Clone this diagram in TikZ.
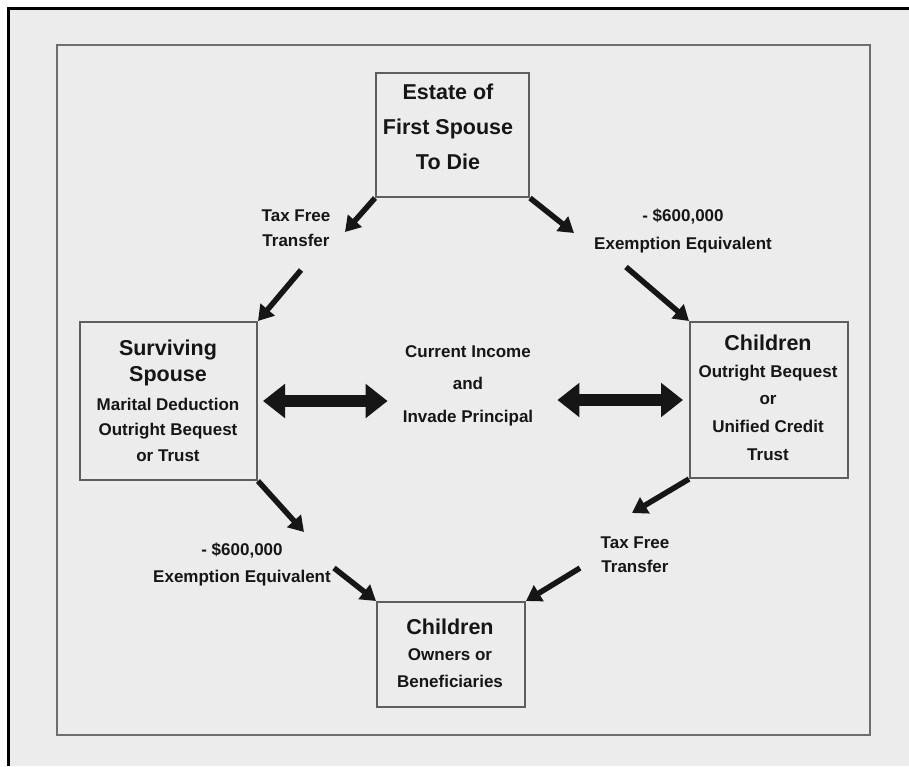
\documentclass[tikz,border=0pt]{standalone}
\usepackage{fontspec}
\setmainfont{Liberation Sans}
\usetikzlibrary{arrows.meta}
\definecolor{bg}{HTML}{ECECEC}
\definecolor{ink}{HTML}{161616}
\definecolor{boxc}{HTML}{5E5E5E}
\definecolor{framec}{HTML}{6E6E6E}
\begin{document}
\begin{tikzpicture}[x=1pt,y=-1pt,
  box/.style={draw=boxc,line width=2pt,inner sep=0pt},
  ttl/.style={text=ink,font=\fontsize{21.5}{26}\selectfont\bfseries,align=center,inner sep=0pt},
  sub/.style={text=ink,font=\fontsize{17}{27}\selectfont\bfseries,align=center,inner sep=0pt},
  arr/.style={draw=ink,line width=5.5pt,-{Triangle[width=18pt,length=15pt]}},
  dbl/.style={draw=ink,line width=12pt,{Triangle[width=33pt,length=22pt]}-{Triangle[width=33pt,length=22pt]}}]
\useasboundingbox (0,0) rectangle (909,766);
\fill[white] (0,0) rectangle (909,766);
\fill[bg] (10,10) rectangle (909,766);
\fill[black] (7,7) rectangle (10,766);
\fill[black] (7,7) rectangle (909,10);
% frame
\node[box,draw=framec,minimum width=813pt,minimum height=690pt] (frame) at (463.5,390) {};
% boxes
\node[box,minimum width=153pt,minimum height=124pt] (estate) at (452.5,135) {};
\node[box,minimum width=177pt,minimum height=158pt] (spouse) at (168.5,401) {};
\node[box,minimum width=158pt,minimum height=156pt] (childR) at (769,400) {};
\node[box,minimum width=148pt,minimum height=105pt] (childB) at (451,654.5) {};
% texts in boxes
\node[ttl,font=\fontsize{21.5}{35}\selectfont\bfseries] (estateT) at (448,127) {Estate of\\First Spouse\\To Die};
\node[ttl] (spouseT) at (168,363) {Surviving\\Spouse};
\node[sub,font=\fontsize{17}{25.5}\selectfont\bfseries] (spouseS) at (168,429.5) {Marital Deduction\\Outright Bequest\\or Trust};
\node[ttl] (childRT) at (768,343) {Children};
\node[sub,font=\fontsize{17}{27.7}\selectfont\bfseries] (childRS) at (768,412.5) {Outright Bequest\\or\\Unified Credit\\Trust};
\node[ttl] (childBT) at (450,627) {Children};
\node[sub] (childBS) at (450,668.5) {Owners or\\Beneficiaries};
% free labels
\node[sub,font=\fontsize{17}{32.5}\selectfont\bfseries] (mid) at (468,385.5) {Current Income\\and\\Invade Principal};
\node[sub,font=\fontsize{17}{25}\selectfont\bfseries] (tl) at (296,228.5) {Tax Free\\Transfer};
\node[sub,font=\fontsize{17}{28}\selectfont\bfseries] (tr) at (683,231) {- \$600,000\\Exemption Equivalent};
\node[sub] (bl) at (242,564.5) {- \$600,000\\Exemption Equivalent};
\node[sub,font=\fontsize{17}{24}\selectfont\bfseries] (br) at (635,555) {Tax Free\\Transfer};
% arrow break points
\coordinate (e1) at (345,232); \coordinate (s1) at (301,270);
\coordinate (e2) at (574,233); \coordinate (s2) at (626,267);
\coordinate (e3) at (304,532); \coordinate (s3) at (334,568);
\coordinate (e4) at (632,513); \coordinate (s4) at (580,568);
\draw[arr] (estate.south west) -- (e1);
\draw[arr] (s1) -- (spouse.north east);
\draw[arr] (estate.south east) -- (e2);
\draw[arr] (s2) -- (childR.north west);
\draw[arr] (spouse.south east) -- (e3);
\draw[arr] (s3) -- (childB.north west);
\draw[arr] (childR.south west) -- (e4);
\draw[arr] (s4) -- (childB.north east);
% double arrows
\draw[dbl] ([xshift=5pt]spouse.east) -- ([xshift=-15pt]mid.west |- spouse.east);
\draw[dbl] ([xshift=24pt]mid.east |- childR.west) -- ([xshift=-6pt]childR.west);
\end{tikzpicture}
\end{document}
